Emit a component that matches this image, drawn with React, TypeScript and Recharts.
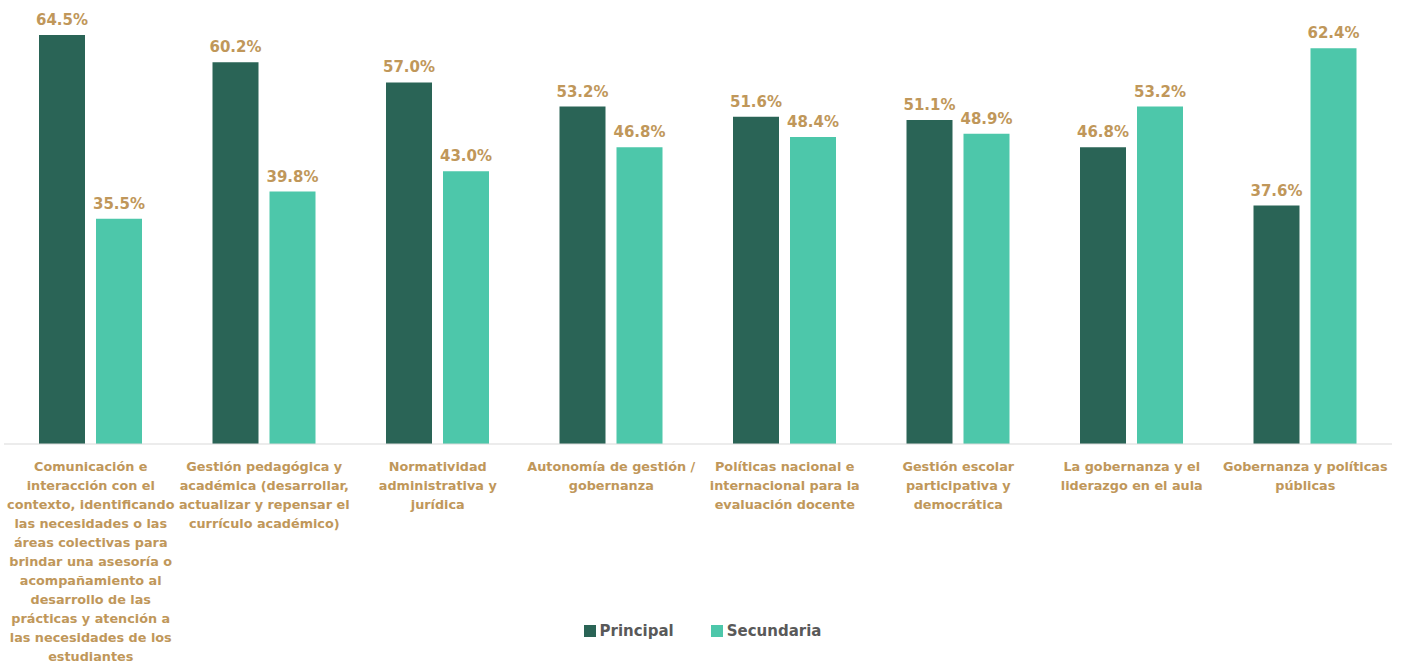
import React from "react"
import { BarChart, Bar, XAxis, YAxis, Legend, LabelList } from "recharts"

const categories = [
  "Comunicación e\ninteracción con el\ncontexto, identificando\nlas necesidades o las\náreas colectivas para\nbrindar una asesoría o\nacompañamiento al\ndesarrollo de las\nprácticas y atención a\nlas necesidades de los\nestudiantes",
  "Gestión pedagógica y\nacadémica (desarrollar,\nactualizar y repensar el\ncurrículo académico)",
  "Normatividad\nadministrativa y\njurídica",
  "Autonomía de gestión /\ngobernanza",
  "Políticas nacional e\ninternacional para la\nevaluación docente",
  "Gestión escolar\nparticipativa y\ndemocrática",
  "La gobernanza y el\nliderazgo en el aula",
  "Gobernanza y políticas\npúblicas",
]
const principal = [64.5, 60.2, 57.0, 53.2, 51.6, 51.1, 46.8, 37.6]
const secundaria = [35.5, 39.8, 43.0, 46.8, 48.4, 48.9, 53.2, 62.4]

const DARK = "#2a6456"
const TEAL = "#4dc7aa"
const GOLD = "#c0975a"
const FONT = "'DejaVu Sans', sans-serif"

const data = categories.map((name, i) => ({ name, principal: principal[i], secundaria: secundaria[i] }))

const CategoryTick = (props: any) => {
  const { x, y, payload } = props
  const lines = String(payload.value).split("\n")
  return (
    <text x={x} y={y} textAnchor="middle" fill={GOLD} fontSize={12.8} fontWeight={700} fontFamily={FONT}>
      {lines.map((l, i) => (
        <tspan key={i} x={x} dy={i === 0 ? 18.5 : 19}>
          {l}
        </tspan>
      ))}
    </text>
  )
}

const LegendContent = () => (
  <div style={{ display: "flex", justifyContent: "center", gap: 37, fontFamily: FONT, fontWeight: 700, fontSize: 15, color: "#595959" }}>
    {[
      { label: "Principal", color: DARK },
      { label: "Secundaria", color: TEAL },
    ].map((it) => (
      <div key={it.label} style={{ display: "flex", alignItems: "center", gap: 4 }}>
        <span style={{ width: 12, height: 12, background: it.color, display: "inline-block" }} />
        <span>{it.label}</span>
      </div>
    ))}
  </div>
)

const fmt = (v: any) => `${Number(v).toFixed(1)}%`

const App: React.FC = () => {
  return (
    <div style={{ position: "absolute", left: 0, top: 0, width: 1405, height: 666, background: "#fff" }}>
      <BarChart width={1405} height={666} data={data} margin={{ top: 0, right: 13, bottom: 0, left: 4 }} barGap={11} barSize={46}>
        <XAxis
          dataKey="name"
          interval={0}
          height={222}
          tickLine={false}
          axisLine={{ stroke: "#d9d9d9" }}
          tick={<CategoryTick />}
        />
        <YAxis hide domain={[0, 70]} />
        <Legend
          verticalAlign="middle"
          align="center"
          content={<LegendContent />}
          wrapperStyle={{ top: 622, left: 0, width: 1405 }}
        />
        <Bar dataKey="principal" name="Principal" fill={DARK} isAnimationActive={false}>
          <LabelList dataKey="principal" position="top" offset={10} formatter={fmt} fill={GOLD} fontSize={15} fontWeight={700} fontFamily={FONT} />
        </Bar>
        <Bar dataKey="secundaria" name="Secundaria" fill={TEAL} isAnimationActive={false}>
          <LabelList dataKey="secundaria" position="top" offset={10} formatter={fmt} fill={GOLD} fontSize={15} fontWeight={700} fontFamily={FONT} />
        </Bar>
      </BarChart>
    </div>
  )
}

export default App
